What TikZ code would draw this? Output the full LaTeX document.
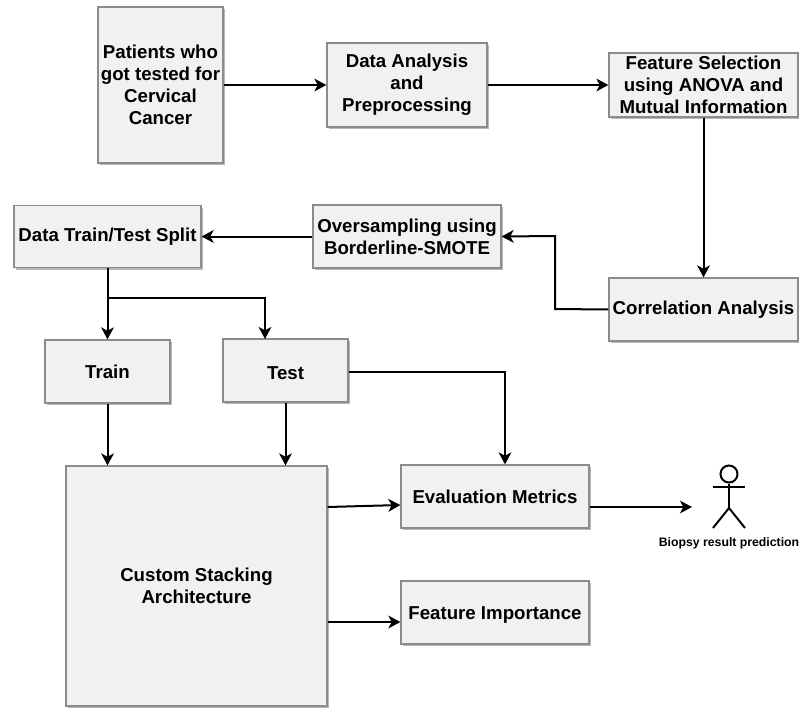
\documentclass[tikz,border=0pt]{standalone}
\usepackage{fontspec}
\setmainfont{Liberation Sans}
\usepackage{xcolor}
\usetikzlibrary{arrows.meta, shadows}
\definecolor{boxfill}{HTML}{F1F1F1}
\definecolor{boxline}{HTML}{8C8C8C}
\newcommand{\px}{0.75pt}
\tikzset{
    box/.style = {draw = boxline, fill = boxfill, line width = 0.9pt, align = center,
        inner sep = 0pt, font = \bfseries\fontsize{14}{16.5}\selectfont,
        drop shadow = {shadow xshift = 1.5pt, shadow yshift = -1.5pt, fill = black!40, opacity = 0.7}},
    freccia/.style = {line width = 1.5pt, -{Stealth[length = 9pt, width = 9.5pt, inset = 2.5pt]}},
    linea/.style = {line width = 1.5pt}
}

\begin{document}
\begin{tikzpicture}[x = \px, y = -\px]
    \useasboundingbox (0,0) rectangle (799,707);
    % Riga in alto
    \node[box, minimum width = 125*\px, minimum height = 156*\px] (patients) at (160.5,85) {Patients who\\got tested for\\Cervical\\Cancer};
    \node[box, minimum width = 160*\px, minimum height = 84*\px] (analysis) at (407,85) {Data Analysis\\and\\Preprocessing};
    \node[box, minimum width = 189*\px, minimum height = 64*\px] (selection) at (703.5,85) {Feature Selection\\using ANOVA and\\Mutual Information};
    % Riga centrale
    \node[box, minimum width = 189*\px, minimum height = 63*\px] (correlation) at (703.5,309.5) {Correlation Analysis};
    \node[box, minimum width = 188*\px, minimum height = 63*\px] (oversampling) at (407,236.5) {Oversampling using\\Borderline-SMOTE};
    \node[box, minimum width = 187*\px, minimum height = 62*\px] (split) at (107.5,236.5) {Data Train/Test Split};
    % Train e test
    \node[box, minimum width = 125*\px, minimum height = 63*\px] (train) at (107.5,371.5) {Train};
    \node[box, minimum width = 125*\px, minimum height = 63*\px, text height = 13pt] (test) at (285.5,370.5) {Test};
    % Riga in basso
    \node[box, minimum width = 261*\px, minimum height = 240*\px] (stacking) at (196.5,586) {Custom Stacking\\Architecture};
    \node[box, minimum width = 188*\px, minimum height = 63*\px] (metrics) at (495,496.5) {Evaluation Metrics};
    \node[box, minimum width = 188*\px, minimum height = 63*\px, text height = 13pt] (importance) at (495,612.5) {Feature Importance};
    % Omino
    \node[draw, circle, line width = 1.5pt, minimum size = 17*\px, inner sep = 0pt] (head) at (729,474) {};
    \coordinate (armL) at (713,487);
    \coordinate (armR) at (745,487);
    \coordinate (hip) at (729,508);
    \coordinate (legL) at (713,528);
    \coordinate (legR) at (745,528);
    \draw[linea] (head) -- (hip);
    \draw[linea] (armL) -- (armR);
    \draw[linea] (legL) -- (hip) -- (legR);
    \node[font = \bfseries\fontsize{9.2}{11}\selectfont, inner sep = 0pt] (biopsy) at (729,543) {Biopsy result prediction};
    % Frecce
    \coordinate (punta) at (692,507);
    \coordinate (gomito) at (555,309);
    \coordinate (gomitoB) at (555,236);
    \coordinate (ramo) at (107,298);
    \coordinate (ramoB) at (265,298);
    \coordinate (ramoC) at (265,339);
    \coordinate (testOut) at (505,372);
    \draw[freccia] (patients) -- (analysis);
    \draw[freccia] (analysis) -- (selection);
    \draw[freccia] (selection) -- (correlation);
    \draw[freccia] (correlation.west) -- (gomito) -- (gomitoB) -- (oversampling.east);
    \draw[freccia] (oversampling) -- (split);
    \draw[freccia] (split) -- (train);
    \draw[freccia] (ramo) -- (ramoB) -- (ramoC);
    \draw[freccia] (train) -- (train.south |- stacking.north);
    \draw[freccia] (test) -- (test.south |- stacking.north);
    \draw[freccia] (test.east |- testOut) -- (testOut) -- (metrics.north -| testOut);
    \draw[freccia] (stacking.east |- 0,507) -- (metrics.west |- 0,505);
    \draw[freccia] (metrics.east |- punta) -- (punta);
    \draw[freccia] (stacking.east |- 0,622) -- (importance.west |- 0,622);
\end{tikzpicture}
\end{document}
